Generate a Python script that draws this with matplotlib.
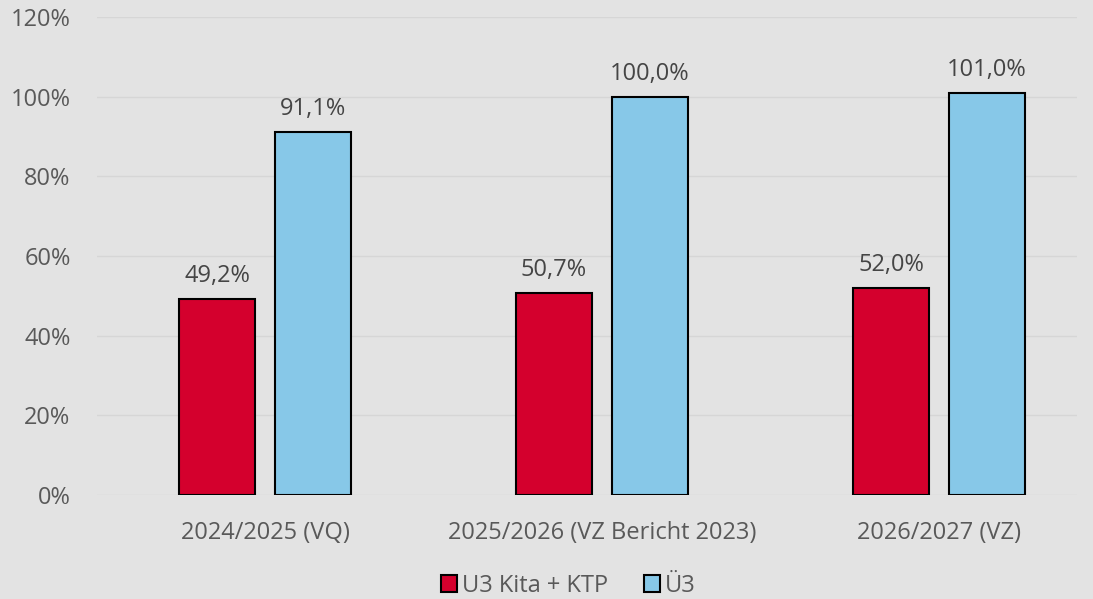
import matplotlib
matplotlib.use("Agg")
import matplotlib.pyplot as plt
from matplotlib.patches import Patch
import numpy as np

categories = ["2024/2025 (VQ)", "2025/2026 (VZ Bericht 2023)", "2026/2027 (VZ)"]
series_names = ["U3 Kita + KTP", "Ü3"]
u3_values = [49.2, 50.7, 52.0]
ue3_values = [91.1, 100.0, 101.0]
yticks = [0, 20, 40, 60, 80, 100, 120]

red = "#d4002d"
blue = "#87c8e8"
bg = "#e3e3e3"
txt = "#595959"
lbl = "#454545"

plt.rcParams['font.family'] = ['Open Sans', 'DejaVu Sans']

fig = plt.figure(figsize=(10.93, 5.99), dpi=100, facecolor=bg)
ax = fig.add_axes([97/1093, 1 - 495/599, (1077-97)/1093, (495-17)/599])
ax.set_facecolor(bg)

x = np.arange(len(categories))
off = 48/337
w = 76/337
b1 = ax.bar(x - off, u3_values, w, color=red, edgecolor="black", linewidth=1.5, zorder=3)
b2 = ax.bar(x + off, ue3_values, w, color=blue, edgecolor="black", linewidth=1.5, zorder=3)

def fmt(v):
    return f"{v:.1f}%".replace(".", ",")

for bars, vals in ((b1, u3_values), (b2, ue3_values)):
    for r, v in zip(bars, vals):
        ax.annotate(fmt(v), (r.get_x() + r.get_width()/2, v), xytext=(0, 8),
                    textcoords="offset points", ha="center", va="bottom",
                    fontsize=17, color=lbl)

ax.set_ylim(0, 120)
ax.set_xlim((97-265)/337, (1077-265)/337)
ax.set_yticks(yticks)
ax.set_yticklabels([f"{t}%" for t in yticks], fontsize=17, color=txt)
ax.set_xticks(x)
ax.set_xticklabels(categories, fontsize=17, color=txt)
ax.tick_params(axis="both", length=0)
ax.tick_params(axis="y", pad=19)
ax.tick_params(axis="x", pad=19)
ax.grid(axis="y", color="#d6d6d6", linewidth=1, zorder=0)
for s in ax.spines.values():
    s.set_visible(False)

handles = [Patch(facecolor=red, edgecolor="black", linewidth=1.5),
           Patch(facecolor=blue, edgecolor="black", linewidth=1.5)]
fig.legend(handles, series_names, loc="center", bbox_to_anchor=(0.52, 1 - 586/599),
           ncol=2, frameon=False, fontsize=17, labelcolor=txt,
           handlelength=0.7, handleheight=0.7, handletextpad=0.2, columnspacing=1.5)

fig.savefig("out.png", dpi=100, facecolor=bg)
